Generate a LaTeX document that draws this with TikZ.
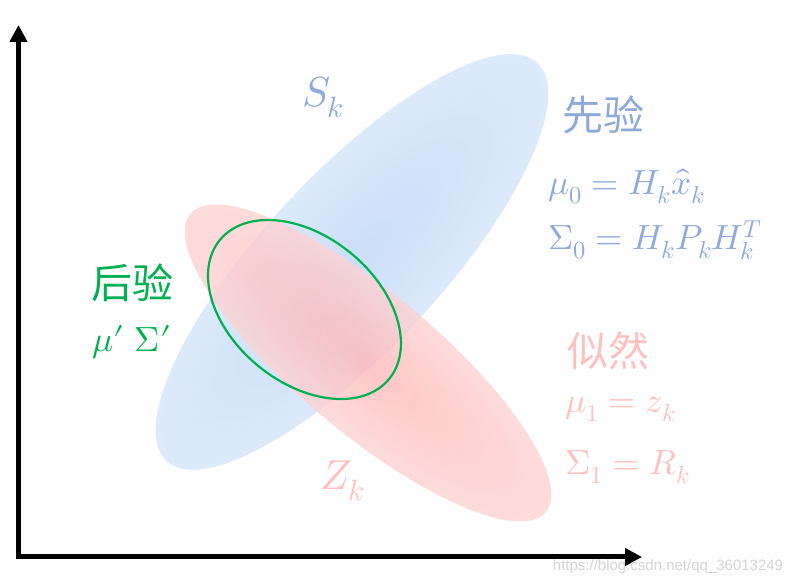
\documentclass[tikz,border=0pt]{standalone}
\usepackage{fontspec}
\usepackage{unicode-math}
\setmathfont{Latin Modern Math}
\newfontfamily\cjk{Noto Sans CJK SC}
\newfontfamily\wmfont{Liberation Sans}
\usetikzlibrary{positioning,arrows.meta}
\definecolor{priortxt}{HTML}{8EAADB}
\definecolor{priorin}{HTML}{C9DEF8}
\definecolor{priorout}{HTML}{DCEAFB}
\definecolor{liketxt}{HTML}{FFC0C0}
\definecolor{likein}{HTML}{FFB6B6}
\definecolor{likeout}{HTML}{FDD2D2}
\definecolor{postgreen}{HTML}{00B050}
\definecolor{wmgray}{HTML}{D4D4D4}

\begin{document}
\begin{tikzpicture}[
  x=1pt,y=1pt,
  >={Triangle[length=17pt,width=17pt]},
  axis/.style={->,line width=5pt,draw=black},
  mathlbl/.style={inner sep=0pt,anchor=base west,font=\fontsize{35}{42}\selectfont},
  biglbl/.style={inner sep=0pt,anchor=base west,font=\fontsize{42}{50}\selectfont},
  cjklbl/.style={inner sep=0pt,font=\cjk\fontsize{41}{48}\selectfont},
]
\useasboundingbox (0,0) rectangle (799,585);

%--------------------------------------------------------- distributions ---
\begin{scope}[transform canvas={shift={(352,323)},rotate=47}]
  \shade[inner color=priorin,outer color=priorout] (0,0) ellipse [x radius=272,y radius=88];
\end{scope}
\begin{scope}[transform canvas={shift={(368,222)},rotate=-40}]
  \shade[inner color=likein,outer color=likeout,fill opacity=0.78]
    (0,0) ellipse [x radius=232,y radius=70];
\end{scope}
\coordinate (postc) at (304.5,275.5);
\draw[postgreen,line width=2.2pt,rotate around={-39.4:(postc)}]
  (postc) ellipse [x radius=109.5,y radius=73];

%------------------------------------------------------------------ axes ---
\coordinate (origin) at (18.5,28);
\coordinate (ytop) at (18.5,560);
\coordinate (xend) at (642,28);
\draw[axis] (origin) -- (ytop);
\draw[axis] ([xshift=-2.5pt]origin) -- (xend);

%---------------------------------------------------------------- labels ---
\node[biglbl,text=priortxt] (sk) at (302,478) {$S_k$};
\node[cjklbl,text=priortxt] (prior) at (603,470) {先验};
\node[mathlbl,text=priortxt] (mu0) at (548,390) {$\mu_0 = H_k\hat{x}_k$};
\node[mathlbl,text=priortxt] (sig0) at (548,335) {$\Sigma_0 = H_kP_kH_k^T$};

\node[cjklbl,text=postgreen] (post) at (132,302) {后验};
\node[mathlbl,text=postgreen] (musig) at (92,233) {$\mu\prime\ \Sigma\prime$};

\node[cjklbl,text=liketxt] (like) at (608,234) {似然};
\node[mathlbl,text=liketxt] (mu1) at (565,172) {$\mu_1 = z_k$};
\node[mathlbl,text=liketxt] (sig1) at (565,110) {$\Sigma_1 = R_k$};
\node[biglbl,text=liketxt] (zk) at (320,95) {$Z_k$};

\node[inner sep=0pt,text=wmgray,font=\wmfont\fontsize{15}{18}\selectfont]
  (wm) at (668,18) {https://blog.csdn.net/qq\_36013249};

\end{tikzpicture}
\end{document}
